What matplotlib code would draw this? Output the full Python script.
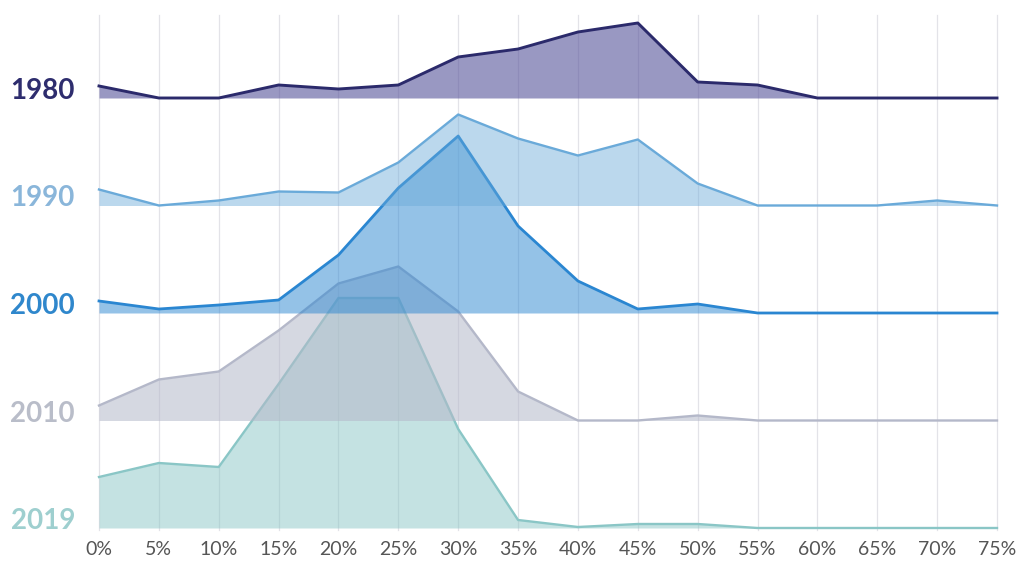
import matplotlib
matplotlib.use("Agg")
import matplotlib.pyplot as plt
import numpy as np

# ---- data ----
x_values = [0, 5, 10, 15, 20, 25, 30, 35, 40, 45, 50, 55, 60, 65, 70, 75]
x_labels = [f"{v}%" for v in x_values]
years = ["1980", "1990", "2000", "2010", "2019"]

v1980 = [12, 0, 0, 13, 9, 13, 41, 49, 66, 75, 16, 13, 0, 0, 0, 0]
v1990 = [16, 0, 5, 14, 13, 43, 91, 67, 50, 66, 22, 0, 0, 0, 5, 0]
v2000 = [12, 4, 8, 13, 58, 125, 177, 87, 32, 4, 9, 0, 0, 0, 0, 0]
v2010 = [15, 41, 49, 90, 137, 154, 109, 29, 0, 0, 5, 0, 0, 0, 0, 0]
v2019 = [51, 65, 61, 144, 230, 230, 99, 8, 1, 4, 4, 0, 0, 0, 0, 0]

series = [v1980, v1990, v2000, v2010, v2019]
line_colors = ["#2b2a6b", "#6aaad9", "#2a86d1", "#b4b8c9", "#8ac6c6"]
fill_colors = ["#56539a", "#6aaad9", "#2a86d1", "#b4b8c9", "#8ac6c6"]
fill_alphas = [0.6, 0.45, 0.5, 0.55, 0.5]
label_colors = ["#2e2d6e", "#8ab6da", "#2f87cc", "#b9bdc9", "#9ecfcf"]
line_widths = [2.1, 1.7, 2.0, 1.7, 1.7]

W, H = 1019, 567
fig = plt.figure(figsize=(W / 100, H / 100), dpi=100)
ax_left, ax_right = 99, 997
ax_top, ax_bot = 15, 530
ax = fig.add_axes([ax_left / W, 1 - ax_bot / H, (ax_right - ax_left) / W, (ax_bot - ax_top) / H])

spacing = 107.5
n = len(years)
baselines = [1 + (n - 1 - i) * spacing for i in range(n)]

# grid
for xv in x_values:
    ax.axvline(xv, color="#e3e3e8", lw=0.9, zorder=0, clip_on=False)

x = np.array(x_values)
# draw bottom rows first so upper rows overlay
for i in reversed(range(n)):
    b = baselines[i]
    y = b + np.array(series[i])
    z = 2 + (n - i) * 2
    ax.fill_between(x, b, y, color=fill_colors[i], alpha=fill_alphas[i], lw=0, zorder=z)
    ax.plot(x, y, color=line_colors[i], lw=line_widths[i], zorder=z + 1,
            solid_joinstyle="round", clip_on=False)
    ax.text(-2.0, b - 1, years[i], ha="right", va="baseline", fontsize=20,
            fontweight="bold", family="Lato", color=label_colors[i])

ax.set_xlim(0, 75)
ax.set_ylim(-1, 514)
ax.set_xticks(x_values)
ax.set_xticklabels(x_labels, family="Lato", fontsize=14, color="#555555")
ax.tick_params(axis="x", length=0, pad=8)
ax.set_yticks([])
for s in ax.spines.values():
    s.set_visible(False)
ax.patch.set_alpha(0)

fig.savefig("out.png", dpi=100)
